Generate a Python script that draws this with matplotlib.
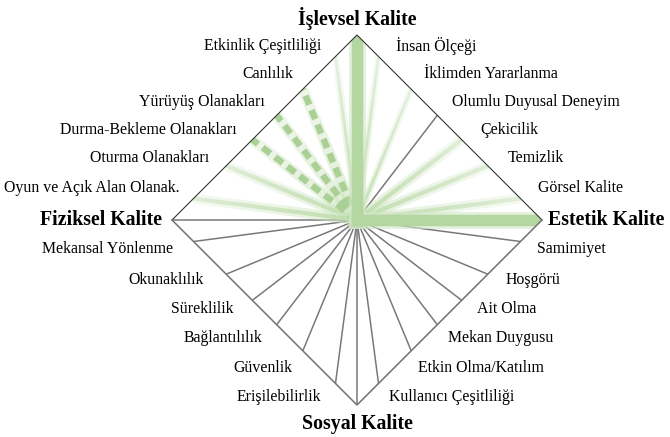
import numpy as np
import matplotlib
matplotlib.use("Agg")
import matplotlib.pyplot as plt
from matplotlib.patches import Polygon
from matplotlib.collections import LineCollection
from matplotlib.colors import to_rgb

# Quality dimensions (placed at the diamond corners) and their strength level
dimensions = ["İşlevsel Kalite", "Fiziksel Kalite", "Sosyal Kalite", "Estetik Kalite"]
dimension_angles = [90, 180, 270, 0]
dimension_levels = [4, 0, 0, 4]

# Sub-criteria of each dimension, listed counter-clockwise from the dimension's corner.
# Levels: 0 = not present, 1 = weak, 2 = moderate, 3 = partial (dashed), 4 = strong
islevsel_items = ["Etkinlik Çeşitliliği", "Canlılık", "Yürüyüş Olanakları",
                  "Durma-Bekleme Olanakları", "Oturma Olanakları", "Oyun ve Açık Alan Olanak."]
islevsel_levels = [1, 3, 3, 3, 2, 2]

fiziksel_items = ["Mekansal Yönlenme", "Okunaklılık", "Süreklilik",
                  "Bağlantılılık", "Güvenlik", "Erişilebilirlik"]
fiziksel_levels = [0, 0, 0, 0, 0, 0]

sosyal_items = ["Kullanıcı Çeşitliliği", "Etkin Olma/Katılım", "Mekan Duygusu",
                "Ait Olma", "Hoşgörü", "Samimiyet"]
sosyal_levels = [0, 0, 0, 0, 0, 0]

estetik_items = ["Görsel Kalite", "Temizlik", "Çekicilik",
                 "Olumlu Duyusal Deneyim", "İklimden Yararlanma", "İnsan Ölçeği"]
estetik_levels = [2, 2, 2, 0, 1, 1]

# ---- layout (pixel-like data coordinates) ----
W, H = 670, 437
CX, CY, R = 357.0, 220.0, 185.0
PX = 0.72  # points per pixel at 100 dpi

fig = plt.figure(figsize=(W / 100, H / 100), dpi=100)
ax = fig.add_axes([0, 0, 1, 1])
ax.set_xlim(0, W)
ax.set_ylim(H, 0)
ax.axis("off")

serif = ["Liberation Serif", "DejaVu Serif"]

top = (CX, CY - R)
right = (CX + R, CY)
bottom = (CX, CY + R)
left = (CX - R, CY)

diamond = Polygon([top, right, bottom, left], closed=True, facecolor="none",
                  edgecolor="none", transform=ax.transData)
ax.add_patch(diamond)


def endpoint(angle_deg):
    t = np.radians(angle_deg)
    c, s = np.cos(t), np.sin(t)
    r = R / (abs(c) + abs(s))
    return CX + r * c, CY - r * s


def faded_line(ex, ey, color, lw, a0, a1, z):
    """Straight line from the centre whose opacity fades towards the rim."""
    n = 40
    t = np.linspace(0, 1, n + 1)
    xs = CX + (ex - CX) * t
    ys = CY + (ey - CY) * t
    segs = np.stack([np.column_stack([xs[:-1], ys[:-1]]),
                     np.column_stack([xs[1:], ys[1:]])], axis=1)
    rgb = to_rgb(color)
    alphas = a0 + (a1 - a0) * (t[:-1] + t[1:]) / 2
    cols = [(*rgb, a) for a in alphas]
    lc = LineCollection(segs, colors=cols, linewidths=lw, zorder=z,
                        capstyle="butt")
    lc.set_clip_path(diamond)
    ax.add_collection(lc)


def draw_spoke(angle_deg, level):
    ex, ey = endpoint(angle_deg)
    xs, ys = [CX, ex], [CY, ey]
    if level == 0:
        ln, = ax.plot(xs, ys, color="#777777", lw=1.5 * PX, zorder=2)
        ln.set_clip_path(diamond)
    elif level == 1:
        faded_line(ex, ey, "#cfe6c2", 7 * PX, 0.55, 0.15, 3)
        faded_line(ex, ey, "#c3dfb2", 2.6 * PX, 0.95, 0.35, 3)
    elif level == 2:
        faded_line(ex, ey, "#cfe6c2", 10 * PX, 0.6, 0.2, 3)
        faded_line(ex, ey, "#c0ddae", 4.2 * PX, 0.95, 0.4, 3)
    elif level == 3:
        faded_line(ex, ey, "#d2e7c6", 11 * PX, 0.75, 0.35, 3)
        ln, = ax.plot(xs, ys, color="#abd096", lw=6.5 * PX, zorder=4,
                      linestyle=(0, (1.5, 0.9)), dash_capstyle="butt")
        ln.set_clip_path(diamond)
    else:
        for kw in (dict(color="#d3e8c6", lw=17 * PX, alpha=0.6, zorder=4),
                   dict(color="#b4d6a1", lw=11.5 * PX, zorder=5)):
            ln, = ax.plot(xs, ys, solid_capstyle="projecting", **kw)
            ln.set_clip_path(diamond)


groups = [
    (islevsel_items, islevsel_levels),
    (fiziksel_items, fiziksel_levels),
    (sosyal_items, sosyal_levels),
    (estetik_items, estetik_levels),
]

for base, (items, levels) in zip(dimension_angles, groups):
    for k, lev in enumerate(levels):
        draw_spoke(base + 7.5 + 15 * k, lev)
for ang, lev in zip(dimension_angles, dimension_levels):
    draw_spoke(ang, lev)

# diamond outline
ax.plot([left[0], top[0], right[0]], [left[1], top[1], right[1]],
        color="#333333", lw=1.1 * PX, zorder=6)
ax.plot([left[0], bottom[0], right[0]], [left[1], bottom[1], right[1]],
        color="#777777", lw=1.6 * PX, zorder=6)

# ---- sub-criterion labels ----
upper_rows = [46, 74, 102, 130, 158, 188]
lower_rows = [249, 280, 309, 338, 368, 397]
fs = 11.4

for row, name in zip(upper_rows, islevsel_items):
    x = CX - (R - (CY - row)) - 25
    ax.text(x, row, name, ha="right", va="center", fontsize=fs, family=serif)
for row, name in zip(upper_rows, estetik_items[::-1]):
    x = CX + (R - (CY - row)) + 28
    ax.text(x, row, name, ha="left", va="center", fontsize=fs, family=serif)
for row, name in zip(lower_rows, fiziksel_items):
    x = CX - (R - (row - CY)) - 28
    ax.text(x, row, name, ha="right", va="center", fontsize=fs, family=serif)
for row, name in zip(lower_rows, sosyal_items[::-1]):
    x = CX + (R - (row - CY)) + 24
    ax.text(x, row, name, ha="left", va="center", fontsize=fs, family=serif)

# ---- dimension titles ----
tfs = 14.3
ax.text(CX, 18, dimensions[0], ha="center", va="center", fontsize=tfs,
        fontweight="bold", family=serif)
ax.text(left[0] - 10, CY, dimensions[1], ha="right", va="center", fontsize=tfs,
        fontweight="bold", family=serif)
ax.text(CX, 424, dimensions[2], ha="center", va="center", fontsize=tfs,
        fontweight="bold", family=serif)
ax.text(right[0] + 6, CY, dimensions[3], ha="left", va="center", fontsize=tfs,
        fontweight="bold", family=serif)

fig.savefig("out.png", dpi=100, facecolor="white")
